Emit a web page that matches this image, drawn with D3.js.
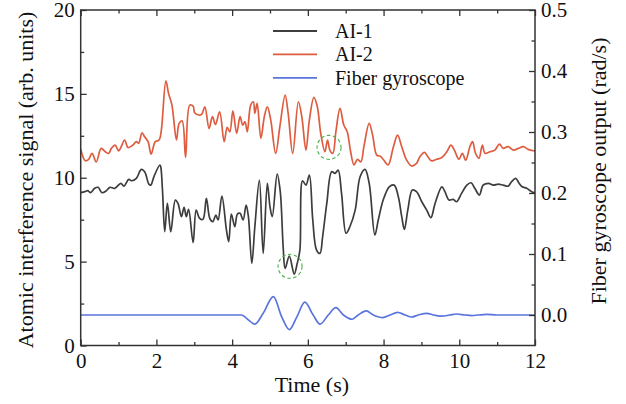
<!DOCTYPE html>
<html>
<head>
<meta charset="utf-8">
<script src="https://cdn.jsdelivr.net/npm/d3@7"></script>
<style>
  body { margin: 0; background: #fff; }
  svg { display: block; }
  text { font-family: "Liberation Serif", "Times New Roman", serif; fill: #111; }
</style>
</head>
<body>
<svg id="chart" width="626" height="404"></svg>
<script>
// AI-1 (left axis, arb. units)
const ai1Time = [0,0.11,0.19,0.26,0.37,0.46,0.56,0.68,0.77,0.90,1.06,1.14,1.27,1.35,1.47,1.60,1.69,1.80,1.85,1.94,2.09,2.11,2.16,2.22,2.29,2.38,2.50,2.57,2.66,2.73,2.79,2.85,2.97,3.05,3.14,3.23,3.32,3.41,3.49,3.57,3.63,3.73,3.85,3.91,3.98,4.07,4.14,4.21,4.29,4.37,4.43,4.52,4.60,4.72,4.82,4.93,5.00,5.06,5.19,5.27,5.35,5.40,5.51,5.64,5.72,5.79,5.86,5.95,6.04,6.13,6.23,6.32,6.39,6.50,6.63,6.72,6.80,6.89,7.01,7.11,7.25,7.38,7.51,7.62,7.77,7.86,7.99,8.15,8.28,8.39,8.48,8.55,8.64,8.76,8.87,9.01,9.14,9.25,9.36,9.54,9.62,9.73,9.84,9.93,10.06,10.20,10.31,10.41,10.53,10.63,10.77,10.90,11.03,11.16,11.29,11.38,11.49,11.58,11.66,11.78,11.91,12.0];
const ai1Signal = [9.11,9.17,9.23,9.11,9.37,9.43,9.11,9.23,9.43,9.37,9.67,9.5,9.9,9.82,9.96,10.5,10.36,9.62,9.56,10.1,10.76,10.7,9.27,6.78,8.47,6.78,8.67,8.47,7.68,8.24,7.68,8.12,6.13,8.07,7.58,7.52,8.77,7.58,7.38,7.78,7.48,8.91,6.88,6.19,7.84,7.08,7.84,7.88,7.48,8.37,7.68,4.9,7.08,9.86,5.49,9.67,8.27,7.68,10.22,9.2,5.8,4.6,5.33,4.26,4.9,5.7,9.82,9.56,10.16,7.48,5.69,5.49,6.48,8.47,10.36,10.26,10.46,9.07,6.69,7.08,8.07,10.06,10.5,9.67,6.59,7.48,8.67,9.46,9.56,8.87,7.68,6.92,8.07,9.27,9.17,8.57,8.07,7.62,8.47,9.46,9.17,8.67,8.71,8.57,9.07,9.56,9.7,9.37,8.97,9.56,9.67,9.56,9.62,9.56,9.5,9.76,9.96,9.67,9.46,9.37,9.17,9.11];

// AI-2 (left axis, arb. units)
const ai2Time = [0,0.12,0.21,0.30,0.41,0.54,0.65,0.74,0.81,0.91,1.00,1.07,1.16,1.25,1.38,1.47,1.53,1.62,1.69,1.78,1.86,1.97,2.07,2.13,2.25,2.32,2.41,2.53,2.60,2.68,2.77,2.88,2.97,3.01,3.12,3.20,3.28,3.39,3.48,3.56,3.67,3.79,3.87,3.94,4.02,4.12,4.21,4.28,4.34,4.40,4.49,4.56,4.60,4.66,4.76,4.85,4.93,5.02,5.15,5.26,5.40,5.48,5.60,5.75,5.84,5.95,6.04,6.16,6.25,6.34,6.45,6.52,6.58,6.66,6.74,6.85,6.95,7.04,7.13,7.22,7.31,7.40,7.48,7.62,7.71,7.82,7.91,7.99,8.12,8.26,8.37,8.48,8.61,8.74,8.87,8.96,9.08,9.17,9.27,9.40,9.54,9.67,9.78,9.87,9.99,10.08,10.17,10.28,10.35,10.43,10.52,10.61,10.68,10.81,10.94,11.06,11.16,11.29,11.43,11.56,11.69,11.82,11.95,12.0];
const ai2Signal = [11.71,11.01,11.1,11.45,10.95,11.75,11.55,11.45,11.75,11.95,11.6,11.85,12.25,11.8,11.95,12.15,12.05,12.68,12.44,12.15,11.41,12.15,12.25,12.84,15.78,15.03,14.33,12.25,13.24,13.38,11.22,14.33,14.27,13.87,13.74,13.8,14.23,12.94,13.64,13.18,13.93,12.15,13.0,12.74,13.99,12.65,13.64,13.14,13.34,12.74,14.33,14.53,13.84,14.43,12.35,13.64,14.23,13.44,11.45,13.04,14.93,13.84,11.45,14.53,13.64,11.65,13.44,14.79,14.23,12.65,11.55,12.25,11.65,11.45,12.74,14.13,13.14,12.74,11.55,10.76,11.1,10.95,11.85,13.24,12.54,11.35,11.29,11.1,10.76,11.85,12.54,11.85,11.05,10.7,10.86,11.25,11.51,11.25,11.01,11.1,11.21,11.55,11.95,11.65,11.1,11.45,11.05,11.85,12.15,11.45,11.16,11.95,11.45,11.55,11.65,12.0,11.75,11.85,11.65,11.75,11.85,11.69,11.61,11.6];

// Fiber gyroscope (right axis, rad/s)
const gyroTime = [0,2.0,4.25,4.38,4.60,4.82,5.09,5.31,5.51,5.71,5.92,6.14,6.32,6.54,6.74,6.94,7.16,7.33,7.54,7.73,7.98,8.17,8.37,8.57,8.74,8.92,9.14,9.33,9.54,9.75,9.93,10.15,10.33,10.50,10.72,10.99,11.5,12.0];
const gyroOutput = [0,0,0,-0.0055,-0.015,0.003,0.030,-0.003,-0.024,-0.003,0.021,0,-0.015,0,0.012,0,-0.007,0,0.0066,0,-0.0044,0,0.0044,0,-0.0033,0,0.0027,0,-0.002,0,0.0016,0,-0.001,0,0.001,0,0,0];

// dashed circles marking the features
const markTime = [5.53, 6.56];
const markSignal = [4.72, 11.81];

const xTicks = [0, 2, 4, 6, 8, 10, 12];
const xMinor = [1, 3, 5, 7, 9, 11];
const leftTicks = [0, 5, 10, 15, 20];
const leftMinor = [2.5, 7.5, 12.5, 17.5];
const rightTicks = [0, 0.1, 0.2, 0.3, 0.4, 0.5];
const rightMinor = [0.05, 0.15, 0.25, 0.35, 0.45];

const legendLabels = ["AI-1", "AI-2", "Fiber gyroscope"];
const colors = ["#3d3d3d", "#de5d40", "#5a74dc"];

const pLeft = 80.7, pRight = 535, pTop = 10, pBottom = 345.5;

const svg = d3.select("#chart");

const x = d3.scaleLinear().domain([0, 12]).range([pLeft, pRight]);
const yL = d3.scaleLinear().domain([0, 20]).range([pBottom, pTop]);
const yR = d3.scaleLinear().domain([-0.05, 0.5]).range([pBottom, pTop]);

svg.append("defs").append("clipPath").attr("id", "clip")
  .append("rect").attr("x", pLeft).attr("y", pTop)
  .attr("width", pRight - pLeft).attr("height", pBottom - pTop);

const plot = svg.append("g").attr("clip-path", "url(#clip)");

function series(ts, vs, yScale, color, curve) {
  const pts = ts.map((t, i) => [t, vs[i]]);
  plot.append("path")
    .datum(pts)
    .attr("fill", "none")
    .attr("stroke", color)
    .attr("stroke-width", 1.7)
    .attr("stroke-linejoin", "round")
    .attr("d", d3.line().x(d => x(d[0])).y(d => yScale(d[1])).curve(curve));
}

series(gyroTime, gyroOutput, yR, colors[2], d3.curveMonotoneX);
series(ai1Time, ai1Signal, yL, colors[0], d3.curveCatmullRom);
series(ai2Time, ai2Signal, yL, colors[1], d3.curveCatmullRom);

// green dashed circles
svg.selectAll(".mark")
  .data(markTime)
  .enter().append("circle")
  .attr("class", "mark")
  .attr("cx", d => x(d))
  .attr("cy", (d, i) => yL(markSignal[i]))
  .attr("r", 12)
  .attr("fill", "none")
  .attr("stroke", "#4db04a")
  .attr("stroke-width", 1.1)
  .attr("stroke-dasharray", "3.5,2.5");

// axes, ticks pointing inward
const axisColor = "#333";
function styleAxis(g) {
  g.select(".domain").remove();
  g.selectAll("line").attr("stroke", axisColor).attr("stroke-width", 1.3);
  g.selectAll("text").attr("font-size", "21px").attr("fill", "#111")
    .style("font-family", '"Liberation Serif", "Times New Roman", serif');
}

svg.append("g").attr("transform", `translate(0,${pBottom})`)
  .call(d3.axisBottom(x).tickValues(xTicks).tickSize(-6).tickPadding(8).tickFormat(d3.format("d")))
  .call(styleAxis);
svg.append("g").attr("transform", `translate(0,${pBottom})`)
  .call(d3.axisBottom(x).tickValues(xMinor).tickSize(-3.5).tickFormat(""))
  .call(styleAxis);
svg.append("g").attr("transform", `translate(0,${pTop})`)
  .call(d3.axisTop(x).tickValues(xTicks).tickSize(-6).tickFormat(""))
  .call(styleAxis);
svg.append("g").attr("transform", `translate(0,${pTop})`)
  .call(d3.axisTop(x).tickValues(xMinor).tickSize(-3.5).tickFormat(""))
  .call(styleAxis);

svg.append("g").attr("transform", `translate(${pLeft},0)`)
  .call(d3.axisLeft(yL).tickValues(leftTicks).tickSize(-6).tickPadding(6).tickFormat(d3.format("d")))
  .call(styleAxis);
svg.append("g").attr("transform", `translate(${pLeft},0)`)
  .call(d3.axisLeft(yL).tickValues(leftMinor).tickSize(-3.5).tickFormat(""))
  .call(styleAxis);

svg.append("g").attr("transform", `translate(${pRight},0)`)
  .call(d3.axisRight(yR).tickValues(rightTicks).tickSize(-6).tickPadding(6).tickFormat(d3.format(".1f")))
  .call(styleAxis);
svg.append("g").attr("transform", `translate(${pRight},0)`)
  .call(d3.axisRight(yR).tickValues(rightMinor).tickSize(-3.5).tickFormat(""))
  .call(styleAxis);

// frame
svg.append("rect")
  .attr("x", pLeft).attr("y", pTop)
  .attr("width", pRight - pLeft).attr("height", pBottom - pTop)
  .attr("fill", "none").attr("stroke", axisColor).attr("stroke-width", 1.5);

// axis titles
svg.append("text")
  .attr("x", (pLeft + pRight) / 2 + 4).attr("y", 392)
  .attr("text-anchor", "middle").attr("font-size", "22px")
  .text("Time (s)");
svg.append("text")
  .attr("transform", "translate(33,180) rotate(-90)")
  .attr("text-anchor", "middle").attr("font-size", "22px")
  .text("Atomic interference signal (arb. units)");
svg.append("text")
  .attr("transform", "translate(606,171) rotate(-90)")
  .attr("text-anchor", "middle").attr("font-size", "22px")
  .text("Fiber gyroscope output (rad/s)");

// legend
const legend = svg.append("g");
legendLabels.forEach((lab, i) => {
  const ly = 31 + i * 23.4;
  legend.append("line")
    .attr("x1", 273).attr("x2", 317).attr("y1", ly).attr("y2", ly)
    .attr("stroke", colors[i]).attr("stroke-width", 1.8);
  legend.append("text")
    .attr("x", 335).attr("y", ly).attr("dy", "0.35em")
    .attr("font-size", "20px")
    .text(lab);
});
</script>
</body>
</html>
